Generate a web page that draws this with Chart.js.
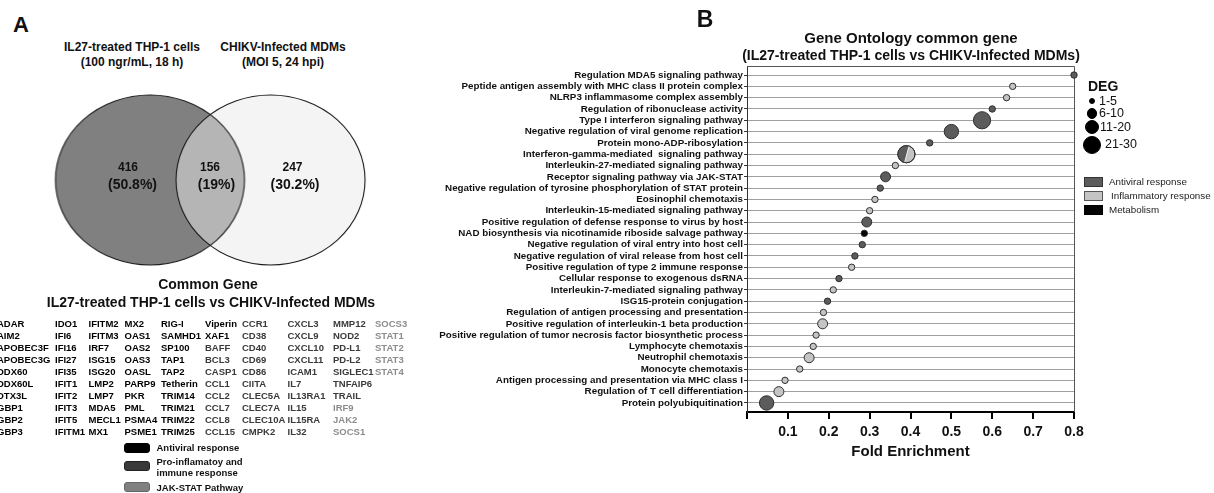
<!DOCTYPE html>
<html>
<head>
<meta charset="utf-8">
<title>GO common genes</title>
<script src="https://cdn.jsdelivr.net/npm/chart.js@4.4.1/dist/chart.umd.min.js"></script>
<style>
  html, body { margin: 0; padding: 0; background: #fff; }
  body { position: relative; width: 1214px; height: 493px; overflow: hidden;
         font-family: "Liberation Sans", Arial, Helvetica, sans-serif; color: #111; }
  .lbl { position: absolute; white-space: nowrap; line-height: 1; }
  .c { transform: translate(-50%, -50%); }
  .l { transform: translate(0, -50%); }
  .b { font-weight: bold; }
  .swatch { position: absolute; box-sizing: border-box; }
  #vennBox { position: absolute; left: 0; top: 80px; width: 420px; height: 200px; }
  #goBox { position: absolute; left: 400px; top: 0; width: 814px; height: 493px; }
</style>
</head>
<body>
<div id="vennBox"><canvas id="vennChart"></canvas></div>
<div id="goBox"><canvas id="goChart"></canvas></div>
<script>
// ---- panel A data ----
const vennSets = ['IL27-treated THP-1 cells', 'CHIKV-Infected MDMs'];
const vennSubtitles = ['(100 ngr/mL, 18 h)', '(MOI 5, 24 hpi)'];
const vennCounts = [416, 156, 247];          // left only, shared, right only
const vennShares = ['50.8%', '19%', '30.2%'];

// common genes, column by column (10 per column)
const antiviralGenes = [
  'ADAR', 'AIM2', 'APOBEC3F', 'APOBEC3G', 'DDX60', 'DDX60L', 'DTX3L', 'GBP1', 'GBP2', 'GBP3',
  'IDO1', 'IFI6', 'IFI16', 'IFI27', 'IFI35', 'IFIT1', 'IFIT2', 'IFIT3', 'IFIT5', 'IFITM1',
  'IFITM2', 'IFITM3', 'IRF7', 'ISG15', 'ISG20', 'LMP2', 'LMP7', 'MDA5', 'MECL1', 'MX1',
  'MX2', 'OAS1', 'OAS2', 'OAS3', 'OASL', 'PARP9', 'PKR', 'PML', 'PSMA4', 'PSME1',
  'RIG-I', 'SAMHD1', 'SP100', 'TAP1', 'TAP2', 'Tetherin', 'TRIM14', 'TRIM21', 'TRIM22', 'TRIM25',
  'Viperin', 'XAF1'
];
const inflammatoryGenes = [
  'BAFF', 'BCL3', 'CASP1', 'CCL1', 'CCL2', 'CCL7', 'CCL8', 'CCL15',
  'CCR1', 'CD38', 'CD40', 'CD69', 'CD86', 'CIITA', 'CLEC5A', 'CLEC7A', 'CLEC10A', 'CMPK2',
  'CXCL3', 'CXCL9', 'CXCL10', 'CXCL11', 'ICAM1', 'IL7', 'IL13RA1', 'IL15', 'IL15RA', 'IL32',
  'MMP12', 'NOD2', 'PD-L1', 'PD-L2', 'SIGLEC1', 'TNFAIP6', 'TRAIL'
];
const jakStatGenes = ['IRF9', 'JAK2', 'SOCS1', 'SOCS3', 'STAT1', 'STAT2', 'STAT3', 'STAT4'];

// ---- panel B data ----
const goTerms = [
  'Regulation MDA5 signaling pathway',
  'Peptide antigen assembly with MHC class II protein complex',
  'NLRP3 inflammasome complex assembly',
  'Regulation of ribonuclease activity',
  'Type I interferon signaling pathway',
  'Negative regulation of viral genome replication',
  'Protein mono-ADP-ribosylation',
  'Interferon-gamma-mediated  signaling pathway',
  'Interleukin-27-mediated signaling pathway',
  'Receptor signaling pathway via JAK-STAT',
  'Negative regulation of tyrosine phosphorylation of STAT protein',
  'Eosinophil chemotaxis',
  'Interleukin-15-mediated signaling pathway',
  'Positive regulation of defense response to virus by host',
  'NAD biosynthesis via nicotinamide riboside salvage pathway',
  'Negative regulation of viral entry into host cell',
  'Negative regulation of viral release from host cell',
  'Positive regulation of type 2 immune response',
  'Cellular response to exogenous dsRNA',
  'Interleukin-7-mediated signaling pathway',
  'ISG15-protein conjugation',
  'Regulation of antigen processing and presentation',
  'Positive regulation of interleukin-1 beta production',
  'Positive regulation of tumor necrosis factor biosynthetic process',
  'Lymphocyte chemotaxis',
  'Neutrophil chemotaxis',
  'Monocyte chemotaxis',
  'Antigen processing and presentation via MHC class I',
  'Regulation of T cell differentiation',
  'Protein polyubiquitination'
];
const foldEnrichment = [
  0.80, 0.65, 0.635, 0.60, 0.575, 0.50, 0.447, 0.39, 0.363, 0.339,
  0.326, 0.313, 0.30, 0.293, 0.287, 0.282, 0.264, 0.256, 0.225, 0.211,
  0.197, 0.187, 0.185, 0.169, 0.162, 0.152, 0.129, 0.093, 0.078, 0.048
];
const degCount = [
  3, 3, 3, 3, 24, 14, 3, 22, 3, 8,
  3, 3, 3, 8, 3, 3, 3, 3, 3, 3,
  3, 3, 8, 3, 3, 8, 3, 3, 8, 14
];
const termGroup = [
  'antiviral', 'inflammatory', 'inflammatory', 'antiviral', 'antiviral', 'antiviral', 'antiviral', 'mixed', 'inflammatory', 'antiviral',
  'antiviral', 'inflammatory', 'inflammatory', 'antiviral', 'metabolism', 'antiviral', 'antiviral', 'inflammatory', 'antiviral', 'inflammatory',
  'antiviral', 'inflammatory', 'inflammatory', 'inflammatory', 'inflammatory', 'inflammatory', 'inflammatory', 'inflammatory', 'inflammatory', 'antiviral'
];
const foldTicks = [0, 0.1, 0.2, 0.3, 0.4, 0.5, 0.6, 0.7, 0.8];
const degBins = ['1-5', '6-10', '11-20', '21-30'];
const groupNames = ['Antiviral response', 'Inflammatory response', 'Metabolism'];

const groupColors = { antiviral: '#5c5c5c', inflammatory: '#c4c4c4', metabolism: '#050505', mixed: '#c4c4c4' };

function degRadius(n) {
  if (n <= 5) return 3.2;
  if (n <= 10) return 5;
  if (n <= 20) return 7.2;
  return 8.6;
}

// small helper for positioned text
function put(text, x, y, opts = {}) {
  const d = document.createElement('div');
  d.className = 'lbl ' + (opts.left ? 'l' : 'c') + (opts.bold === false ? '' : ' b');
  d.textContent = text;
  d.style.left = x + 'px';
  d.style.top = y + 'px';
  d.style.fontSize = (opts.size || 12) + 'px';
  if (opts.color) d.style.color = opts.color;
  document.body.appendChild(d);
  return d;
}
function box(x, y, w, h, fill, border, radius) {
  const d = document.createElement('div');
  d.className = 'swatch';
  Object.assign(d.style, { left: x + 'px', top: y + 'px', width: w + 'px', height: h + 'px',
    background: fill, border: '1px solid ' + border, borderRadius: (radius || 0) + 'px' });
  document.body.appendChild(d);
}

// ---- panel A ----
put('A', 21, 25, { size: 22 });
put(vennSets[0], 132, 47);
put(vennSubtitles[0], 132, 62);
put(vennSets[1], 283, 47);
put(vennSubtitles[1], 283, 62);

const rx = 94.5, ry = 85;
function ellipseImage(fill, stroke) {
  const c = document.createElement('canvas');
  c.width = Math.ceil(2 * rx + 4);
  c.height = Math.ceil(2 * ry + 4);
  const g = c.getContext('2d');
  g.beginPath();
  g.ellipse(c.width / 2, c.height / 2, rx, ry, 0, 0, 2 * Math.PI);
  if (fill) { g.fillStyle = fill; g.fill(); }
  if (stroke) { g.strokeStyle = stroke; g.lineWidth = 1.1; g.stroke(); }
  return c;
}
const vennStyles = [
  ellipseImage('#808080'),
  ellipseImage('rgba(233,233,233,0.504)'),
  ellipseImage(null, '#1a1a1a'),
  ellipseImage(null, '#1a1a1a')
];
const vennCenters = [148.5, 272];

new Chart(document.getElementById('vennChart'), {
  type: 'bubble',
  data: {
    datasets: [{
      data: [0, 1, 0, 1].map(s => ({ x: vennCenters[s], y: 100, r: 1 })),
      pointStyle: ctx => vennStyles[ctx.dataIndex]
    }]
  },
  options: {
    responsive: true, maintainAspectRatio: false, animation: false, events: [],
    layout: { padding: 0 },
    plugins: { legend: { display: false }, tooltip: { enabled: false } },
    scales: {
      x: { type: 'linear', display: false, min: 0, max: 420 },
      y: { type: 'linear', display: false, min: 0, max: 200 }
    }
  }
});

put(String(vennCounts[0]), 128, 167);
put('(' + vennShares[0] + ')', 132.5, 184, { size: 14 });
put(String(vennCounts[1]), 210, 167);
put('(' + vennShares[1] + ')', 216.5, 184, { size: 14 });
put(String(vennCounts[2]), 292.5, 167);
put('(' + vennShares[2] + ')', 295, 184, { size: 14 });

put('Common Gene', 208, 284, { size: 14 });
put(vennSets[0] + ' vs ' + vennSets[1], 211, 301.7, { size: 14 });

const geneCols = [-3, 55, 88.5, 124.5, 161, 205, 242, 287.5, 333, 375];
const genes = [
  ...antiviralGenes.map(g => [g, '#000']),
  ...inflammatoryGenes.map(g => [g, '#3a3a3a']),
  ...jakStatGenes.map(g => [g, '#8c8c8c'])
];
genes.forEach(([g, col], i) => {
  put(g, geneCols[Math.floor(i / 10)], 324.3 + (i % 10) * 12, { left: true, size: 9.5, color: col });
});

box(124, 443, 26, 10, '#000', '#000', 3);
box(124, 461, 26, 10, '#3a3a3a', '#222', 3);
box(124, 482, 26, 10, '#808080', '#666', 3);
put('Antiviral response', 156.5, 448, { left: true, size: 9.5 });
put('Pro-inflamatoy and', 156.5, 461.5, { left: true, size: 9.5 });
put('immune response', 156.5, 472.7, { left: true, size: 9.5 });
put('JAK-STAT Pathway', 156.5, 487.7, { left: true, size: 9.5 });

// ---- panel B ----
put('B', 705, 18.5, { size: 23 });
put('Gene Ontology common gene', 911, 37, { size: 15 });
put('(' + vennSets[0] + ' vs ' + vennSets[1] + ')', 911, 55, { size: 14 });

// top and right edges of the plot box
const framePlugin = {
  id: 'frame',
  beforeDatasetsDraw(chart) {
    const { ctx, chartArea: { left, right, top, bottom } } = chart;
    ctx.save();
    ctx.strokeStyle = '#555';
    ctx.lineWidth = 1;
    ctx.beginPath();
    ctx.moveTo(left, Math.round(top) + 0.5);
    ctx.lineTo(Math.round(right) + 0.5, Math.round(top) + 0.5);
    ctx.lineTo(Math.round(right) + 0.5, bottom);
    ctx.stroke();
    ctx.restore();
  }
};

// bubble shared by antiviral and inflammatory: half dark, half light
const splitPlugin = {
  id: 'split',
  afterDatasetsDraw(chart) {
    const ctx = chart.ctx;
    chart.getDatasetMeta(0).data.forEach((el, i) => {
      if (termGroup[i] !== 'mixed') return;
      const r = el.options.radius;
      const { x, y } = el;
      ctx.save();
      ctx.beginPath();
      ctx.arc(x, y, r, 0, 2 * Math.PI);
      ctx.clip();
      ctx.fillStyle = groupColors.antiviral;
      ctx.beginPath();
      ctx.moveTo(x - r - 1, y - r - 1);
      ctx.lineTo(x + 0.35 * r, y - r - 1);
      ctx.lineTo(x - 0.25 * r, y + r + 1);
      ctx.lineTo(x - r - 1, y + r + 1);
      ctx.closePath();
      ctx.fill();
      ctx.strokeStyle = '#f0f0f0';
      ctx.lineWidth = 1;
      ctx.beginPath();
      ctx.moveTo(x + 0.35 * r, y - r - 1);
      ctx.lineTo(x - 0.25 * r, y + r + 1);
      ctx.stroke();
      ctx.restore();
      ctx.save();
      ctx.strokeStyle = '#2e2e2e';
      ctx.lineWidth = 1;
      ctx.beginPath();
      ctx.arc(x, y, r, 0, 2 * Math.PI);
      ctx.stroke();
      ctx.restore();
    });
  }
};

new Chart(document.getElementById('goChart'), {
  type: 'bubble',
  data: {
    datasets: [{
      data: goTerms.map((t, i) => ({ x: foldEnrichment[i], y: i, deg: degCount[i], group: termGroup[i] })),
      radius: ctx => degRadius(ctx.raw.deg),
      backgroundColor: ctx => groupColors[ctx.raw.group],
      borderColor: '#2e2e2e',
      borderWidth: 1,
      clip: false
    }]
  },
  options: {
    responsive: true, maintainAspectRatio: false, animation: false, events: [],
    layout: { padding: { top: 66, right: 140, left: 0, bottom: 0 } },
    plugins: { legend: { display: false }, tooltip: { enabled: false } },
    scales: {
      x: {
        type: 'linear', min: 0, max: 0.8,
        afterBuildTicks: axis => { axis.ticks = foldTicks.map(v => ({ value: v })); },
        afterFit: scale => { scale.height = 81; },
        grid: { drawOnChartArea: false, color: '#000', lineWidth: 2, tickLength: 7 },
        border: { color: '#000', width: 2 },
        ticks: { padding: 5, color: '#111', font: { weight: 'bold', size: 14 },
                 callback: v => v === 0 ? '' : v.toFixed(1) },
        title: { display: true, text: 'Fold Enrichment', color: '#111',
                 font: { weight: 'bold', size: 15 }, padding: { top: 0, bottom: 32 } }
      },
      y: {
        type: 'linear', reverse: true, min: -0.8, max: goTerms.length - 0.2,
        afterBuildTicks: axis => { axis.ticks = goTerms.map((t, i) => ({ value: i })); },
        afterFit: scale => { scale.width = 347; },
        grid: { color: '#a0a0a0', lineWidth: 1, tickLength: 3, tickColor: '#333' },
        border: { color: '#333', width: 1 },
        ticks: { autoSkip: false, padding: 1, color: '#111', font: { weight: 'bold', size: 9.8 },
                 callback: v => goTerms[v] }
      }
    }
  },
  plugins: [framePlugin, splitPlugin]
});

// legends on the right
put('DEG', 1088, 86, { left: true, size: 14 });
const degDots = [[101, 6], [113.3, 10.5], [127.3, 14], [145, 17.5]];
const degTextX = [1099, 1099, 1100, 1105];
degBins.forEach((b, k) => {
  const [cy, dm] = degDots[k];
  box(1092 - dm / 2, cy - dm / 2, dm, dm, '#000', '#000', dm);
  put(b, degTextX[k], k === 3 ? cy - 1 : cy, { left: true, size: 12.5, bold: false });
});
const groupFill = [groupColors.antiviral, groupColors.inflammatory, groupColors.metabolism];
const groupBorder = ['#333', '#555', '#000'];
groupNames.forEach((g, k) => {
  box(1084, 177 + k * 14, 19, 10, groupFill[k], groupBorder[k], 0);
  put(g, k === 1 ? 1111 : 1109, 182 + k * 14, { left: true, size: 9.8, bold: false, color: '#222' });
});
</script>
</body>
</html>
